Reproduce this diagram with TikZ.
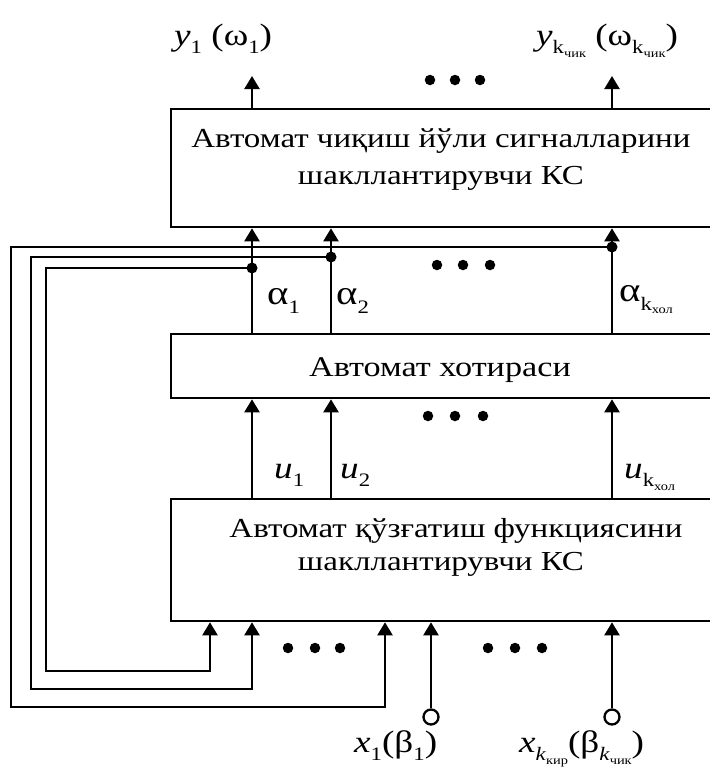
\documentclass[tikz,border=0pt]{standalone}
\usepackage{fontspec}
\setmainfont[FakeStretch=1.2]{Liberation Serif}
\usetikzlibrary{arrows.meta}
\newcommand\sA[1]{\raisebox{-0.28em}{\fontsize{19}{19}\selectfont #1}}
\newcommand\sB[1]{\raisebox{-0.18em}{\fontsize{12}{12}\selectfont #1}}
\begin{document}
\begin{tikzpicture}[x=1pt,y=-1pt,
  line width=2.3pt,
  box/.style={draw, line width=2.3pt, inner sep=0pt, anchor=north west},
  arr/.style={-{Triangle[width=15pt,length=13pt]}},
  dt/.style={circle, fill, inner sep=0pt, minimum size=10.5pt},
  jn/.style={circle, fill, inner sep=0pt, minimum size=11pt},
  txt/.style={font=\fontsize{27.5}{37}\selectfont, inner sep=0pt, anchor=base},
  lab/.style={font=\fontsize{31}{33}\selectfont, inner sep=0pt, anchor=base west},
  pinc/.style={circle, draw, line width=2.3pt, minimum size=15pt, inner sep=0pt}]
\useasboundingbox (0,0) rectangle (710,769);
\clip (0,0) rectangle (710,769);
% boxes
\node[box, minimum width=560pt, minimum height=118pt] (B1) at (170,108) {};
\node[box, minimum width=560pt, minimum height=64pt] (B2) at (170,333) {};
\node[box, minimum width=560pt, minimum height=122pt] (B3) at (170,498) {};
% texts
\node[txt] (T1a) at (441,147) {Автомат чиқиш йўли сигналларини};
\node[txt] (T1b) at (441,184) {шакллантирувчи КС};
\node[txt, font=\fontsize{28.5}{37}\selectfont] (T2) at (440,376) {Автомат хотираси};
\node[txt] (T3a) at (456,537) {Автомат қўзғатиш функциясини};
\node[txt] (T3b) at (441,570) {шакллантирувчи КС};
% columns
\coordinate (cA) at (252,0);
\coordinate (cB) at (331,0);
\coordinate (cC) at (612,0);
\coordinate (cD) at (210,0);
\coordinate (cE) at (385,0);
% outputs
\coordinate (o1) at (252,76);
\coordinate (o2) at (612,76);
\draw[arr] (B1.north -| cA) -- (o1);
\draw[arr] (B1.north -| cC) -- (o2);
\node[lab] (Ly1) at (173,45) {\textit{y}\sA{1} (ω\sA{1})};
\node[lab] (Ly2) at (535,45) {\textit{y}\sA{k\sB{чик}} (ω\sA{k\sB{чик}})};
% memory outputs
\draw[arr] (B2.north -| cA) -- (B1.south -| cA);
\draw[arr] (B2.north -| cB) -- (B1.south -| cB);
\draw[arr] (B2.north -| cC) -- (B1.south -| cC);
\node[jn] (j1) at (252,268) {};
\node[jn] (j2) at (331,257) {};
\node[jn] (j3) at (612,247) {};
\node[lab, font=\fontsize{34}{34}\selectfont] (La1) at (266,304) {α\sA{1}};
\node[lab, font=\fontsize{34}{34}\selectfont] (La2) at (335,304) {α\sA{2}};
\node[lab, font=\fontsize{34}{34}\selectfont] (La3) at (618,301) {α\sA{k\sB{хол}}};
% feedback
\coordinate (k1) at (46,671);
\coordinate (k2) at (31,689);
\coordinate (k3) at (11,707);
\draw[arr] (j1.center) -| (k1) -| (B3.south -| cD);
\draw[arr] (j2.center) -| (k2) -| (B3.south -| cA);
\draw[arr] (j3.center) -| (k3) -| (B3.south -| cE);
% excitation outputs
\draw[arr] (B3.north -| cA) -- (B2.south -| cA);
\draw[arr] (B3.north -| cB) -- (B2.south -| cB);
\draw[arr] (B3.north -| cC) -- (B2.south -| cC);
\node[lab] (Lu1) at (273,478) {\textit{u}\sA{1}};
\node[lab] (Lu2) at (339,478) {\textit{u}\sA{2}};
\node[lab] (Lu3) at (623,478) {\textit{u}\sA{k\sB{хол}}};
% inputs
\node[pinc] (P1) at (431,717) {};
\node[pinc] (P2) at (612,717) {};
\draw[arr] (P1) -- (B3.south -| P1);
\draw[arr] (P2) -- (B3.south -| P2);
\node[lab] (Lx1) at (353,752) {\textit{x}\sA{1}(β\sA{1})};
\node[lab] (Lx2) at (518,752) {\textit{x}\sA{\textit{k}\sB{кир}}(β\sA{\textit{k}\sB{чик}})};
% ellipsis dots
\node[dt] (e1) at (430,80) {};
\node[dt] (e2) at (455,80) {};
\node[dt] (e3) at (480,80) {};
\node[dt] (e4) at (437,265) {};
\node[dt] (e5) at (463,265) {};
\node[dt] (e6) at (490,265) {};
\node[dt] (e7) at (428,416) {};
\node[dt] (e8) at (455,416) {};
\node[dt] (e9) at (483,416) {};
\node[dt] (e10) at (288,648) {};
\node[dt] (e11) at (315,648) {};
\node[dt] (e12) at (340,648) {};
\node[dt] (e13) at (488,648) {};
\node[dt] (e14) at (515,648) {};
\node[dt] (e15) at (542,648) {};
\end{tikzpicture}
\end{document}
